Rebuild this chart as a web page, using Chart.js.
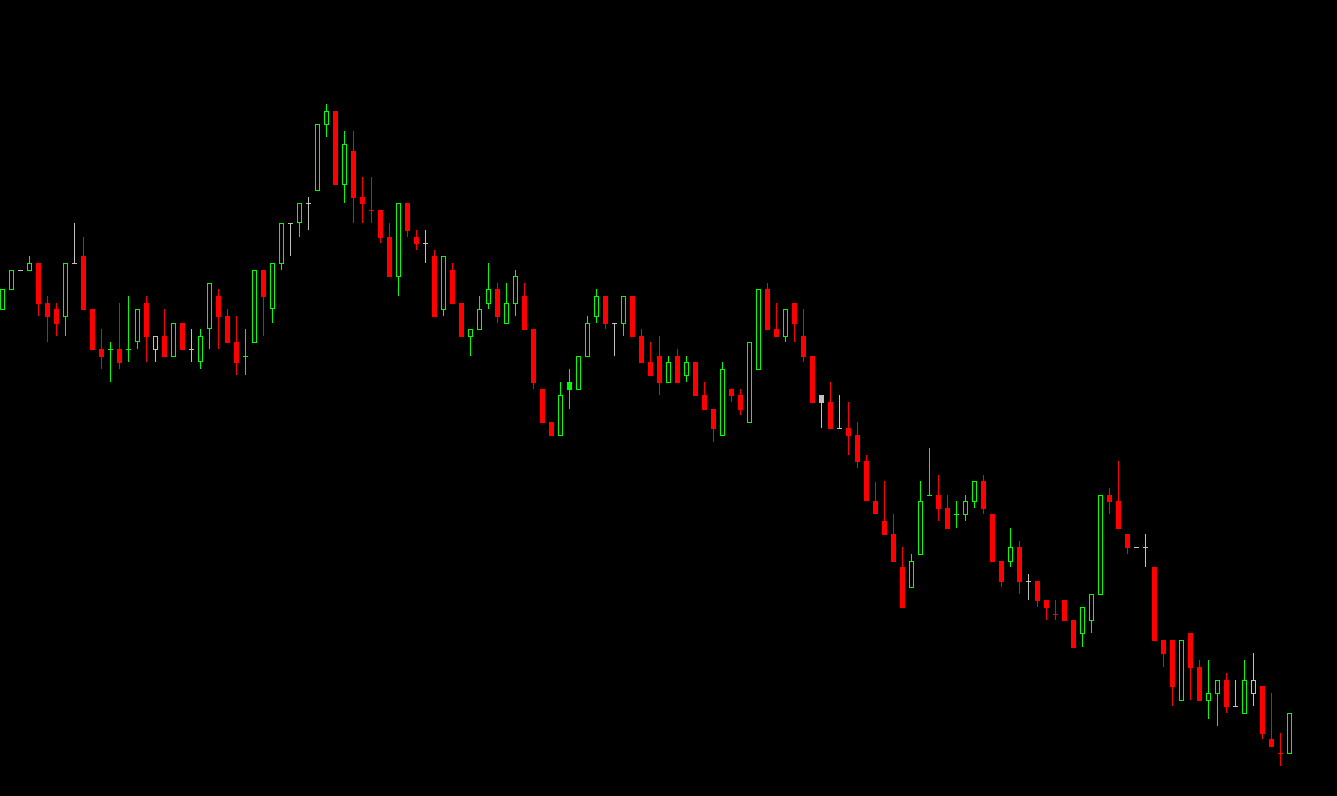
<!DOCTYPE html>
<html>
<head>
<meta charset="utf-8">
<title>Candles</title>
<script src="https://cdn.jsdelivr.net/npm/chart.js@4.4.1/dist/chart.umd.min.js"></script>
<style>
  html, body { margin: 0; padding: 0; background: #000; overflow: hidden; }
  #wrap { width: 1337px; height: 796px; }
</style>
</head>
<body>
<div id="wrap"><canvas id="price_chart"></canvas></div>
<script>
// OHLC per bar
const opens = [490,510,530,529,537,497,491,483,537,544, 491,451,451,451,451,458,497,450,464,443,
  477,451,438,471,504,484,458,444,457,530, 491,536,577,577,597,609,675,689,615,649,
  603,590,590,563,523,597,563,557,544,490, 530,497,463,470,496,511,476,496,504,471,
  411,378,364,410,410,443,483,504,477,476, 504,464,438,444,417,444,424,438,405,391,
  364,411,405,377,430,511,471,463,497,464, 444,397,398,372,372,365,339,299,279,266,
  233,212,245,305,305,292,286,285,298,319, 286,239,238,253,219,219,200,186,200,180,
  166,179,205,305,299,266,253,253,233,160, 160,99,167,133,99,106,120,94,86,106,
  114,61,47,46];
const highs = [511,530,530,544,537,504,497,537,577,563, 491,471,458,497,504,491,504,464,491,477,
  477,471,471,517,511,491,484,471,530,530, 537,577,577,597,603,676,696,689,669,669,
  623,623,590,577,597,597,570,570,550,544, 537,497,471,504,537,517,517,530,517,471,
  411,378,418,431,444,484,511,504,477,504, 504,471,458,464,444,451,444,438,418,391,
  438,411,411,458,511,517,497,491,497,491, 444,405,418,405,398,378,345,318,319,286,
  253,246,319,352,325,305,299,305,319,325, 286,239,272,259,226,219,200,200,200,180,
  193,206,305,312,339,266,253,266,233,160, 160,160,167,140,140,120,127,120,140,147,
  114,107,67,87];
const lows = [490,510,530,529,484,458,464,464,537,490, 450,431,418,431,438,451,438,438,443,443,
  450,438,431,451,451,457,425,425,457,464, 477,530,544,563,570,609,663,615,597,577,
  577,577,557,523,504,563,550,537,483,484, 496,463,444,470,491,477,476,484,470,411,
  377,364,364,391,410,443,477,471,444,464, 463,437,424,405,417,417,418,404,390,358,
  364,398,385,377,430,470,463,458,458,438, 397,372,371,372,345,332,299,286,265,238,
  192,212,245,305,279,271,272,279,292,286, 238,213,233,206,200,193,180,180,179,152,
  153,167,205,286,271,246,253,233,159,133, 94,99,100,99,81,74,87,94,86,94,
  61,53,34,46];
const closes = [511,530,530,537,496,483,476,537,537,490, 450,443,451,437,451,491,463,464,443,477,
  450,451,464,517,483,457,437,444,530,503, 537,577,577,597,597,676,689,615,656,602,
  596,590,562,523,597,569,556,557,483,544, 496,463,471,491,511,483,497,524,470,417,
  377,364,405,418,444,477,504,476,477,504, 463,437,424,417,438,417,438,404,390,371,
  431,404,390,458,511,470,463,491,476,443, 397,405,371,372,364,338,299,286,265,238,
  192,239,299,305,291,271,286,299,319,291, 238,218,253,218,219,199,192,186,179,152,
  193,206,305,298,271,252,253,253,159,146, 113,160,132,99,107,120,93,94,120,120,
  66,53,47,87];
// bar signal: g up, r down, w neutral; capitals = highlighted bar
const tone = ['g','g','w','g','r','r','r','g','w','r', 'r','r','g','r','g','g','r','w','r','g',
  'r','w','g','g','r','r','r','g','g','r', 'g','g','w','g','w','g','g','r','g','r',
  'r','r','r','r','g','r','r','w','r','g', 'r','r','g','g','g','r','g','g','r','r',
  'r','r','g','G','g','g','g','r','w','g', 'r','r','r','r','g','r','g','r','r','r',
  'g','r','r','g','g','r','r','g','r','r', 'r','W','r','w','r','r','r','r','r','r',
  'r','g','g','g','r','r','g','g','g','r', 'r','r','g','r','w','r','r','r','r','r',
  'g','g','g','r','r','r','w','w','r','r', 'r','g','r','r','g','g','r','w','g','w',
  'r','r','r','g'];

const colorOf = { g: '#00ff00', G: '#00ff00', r: '#ff0000', w: '#c0c0c0', W: '#c0c0c0' };
const solid = { g: false, G: true, r: true, w: false, W: true };

const lineColors = tone.map(t => colorOf[t]);
const fillColors = tone.map((t, i) => (solid[t] || opens[i] === closes[i]) ? colorOf[t] : '#000000');

const bodies = opens.map((o, i) => ({ x: i, y: o === closes[i] ? [o - 1, o] : [o, closes[i]] }));
const wicks = opens.map((o, i) => ({ x: i, y: [lows[i], highs[i]] }));

const ctx = document.getElementById('price_chart').getContext('2d');

new Chart(ctx, {
    type: 'bar',
    data: {
        datasets: [{
            label: 'Body',
            data: bodies,
            backgroundColor: fillColors,
            borderColor: lineColors,
            borderWidth: 1,
            borderSkipped: false,
            barThickness: 5,
            inflateAmount: 0,
            grouped: false,
            order: 0
        }, {
            label: 'Wick',
            data: wicks,
            backgroundColor: lineColors,
            borderWidth: 0,
            barThickness: 1,
            inflateAmount: 0,
            grouped: false,
            order: 1
        }]
    },
    options: {
        responsive: true,
        maintainAspectRatio: false,
        animation: false,
        layout: { padding: 0 },
        scales: {
            x: { type: 'linear', display: false, offset: false, min: -2.5 / 9, max: (1337 - 2.5) / 9 },
            y: { type: 'linear', display: false, min: 4, max: 800 }
        },
        plugins: {
            legend: { display: false },
            tooltip: { enabled: false }
        }
    }
});
</script>
</body>
</html>
